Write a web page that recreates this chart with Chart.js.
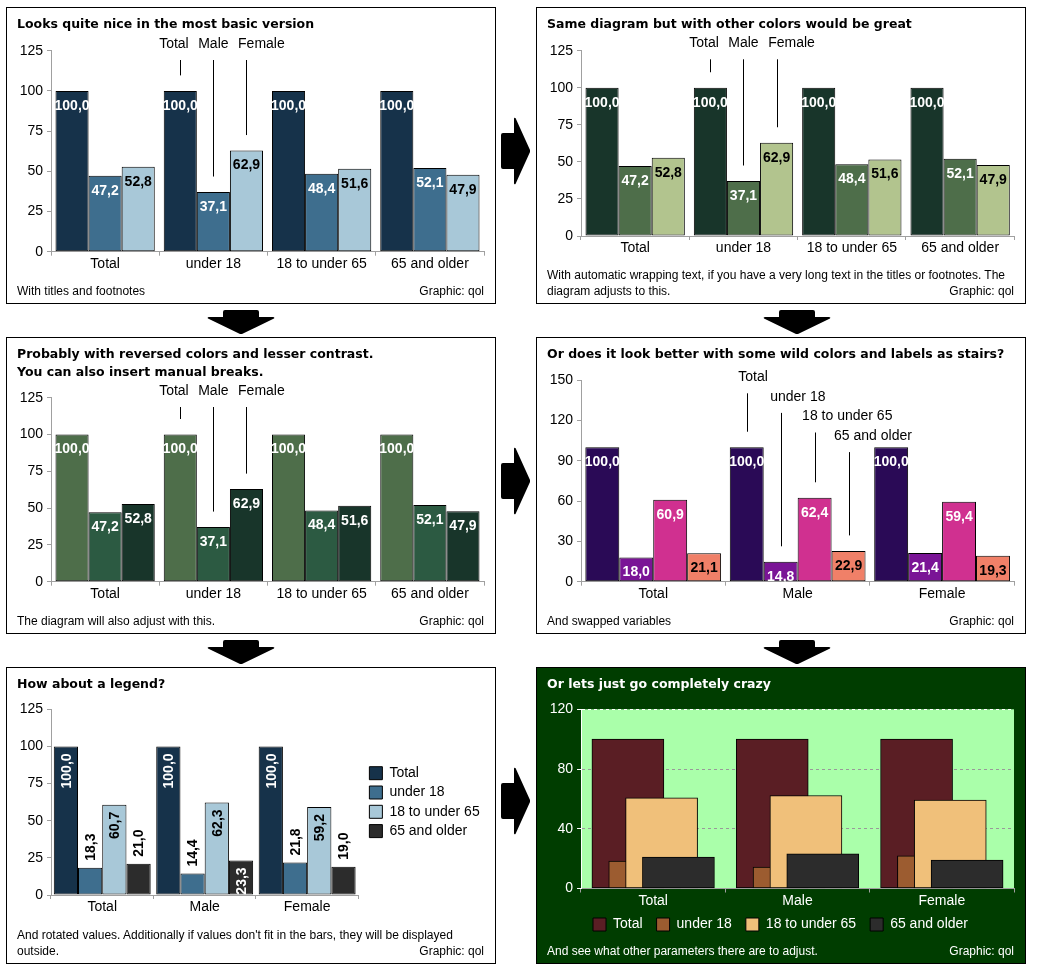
<!DOCTYPE html>
<html>
<head>
<meta charset="utf-8">
<script src="https://cdn.jsdelivr.net/npm/chart.js@4.4.1/dist/chart.umd.min.js"></script>
<style>
  body { margin: 0; background: #fff; width: 1037px; height: 979px; position: relative; overflow: hidden; }
  .panel { position: absolute; width: 488px; height: 295px; border: 1px solid #000; background: #fff; }
  .panel canvas { position: absolute; left: 0; top: 0; }
  .title { position: absolute; left: 10px; top: 7px; font: bold 12.5px/18.3px "DejaVu Sans", Verdana, sans-serif; color: #000; white-space: nowrap; }
  .foot { position: absolute; left: 10px; right: 11px; bottom: 4.5px; font: 12px/16px "Liberation Sans", Arial, sans-serif; color: #000; white-space: nowrap; }
  .src { position: absolute; right: 0; bottom: 0; }
  .dark { background: #003d00; }
  .dark .title, .dark .foot { color: #fff; }
  .arrow { position: absolute; }
</style>
</head>
<body>

<div class="panel" style="left:6px;top:7px">
  <canvas id="c1" width="488" height="295"></canvas>
  <div class="title">Looks quite nice in the most basic version</div>
  <div class="foot">With titles and footnotes<span class="src">Graphic: qol</span></div>
</div>

<div class="panel" style="left:536px;top:7px">
  <canvas id="c2" width="488" height="295"></canvas>
  <div class="title">Same diagram but with other colors would be great</div>
  <div class="foot">With automatic wrapping text, if you have a very long text in the titles or footnotes. The<br>diagram adjusts to this.<span class="src">Graphic: qol</span></div>
</div>

<div class="panel" style="left:6px;top:337px">
  <canvas id="c3" width="488" height="295"></canvas>
  <div class="title">Probably with reversed colors and lesser contrast.<br>You can also insert manual breaks.</div>
  <div class="foot">The diagram will also adjust with this.<span class="src">Graphic: qol</span></div>
</div>

<div class="panel" style="left:536px;top:337px">
  <canvas id="c4" width="488" height="295"></canvas>
  <div class="title">Or does it look better with some wild colors and labels as stairs?</div>
  <div class="foot">And swapped variables<span class="src">Graphic: qol</span></div>
</div>

<div class="panel" style="left:6px;top:667px">
  <canvas id="c5" width="488" height="295"></canvas>
  <div class="title">How about a legend?</div>
  <div class="foot">And rotated values. Additionally if values don't fit in the bars, they will be displayed<br>outside.<span class="src">Graphic: qol</span></div>
</div>

<div class="panel dark" style="left:536px;top:667px">
  <canvas id="c6" width="488" height="295"></canvas>
  <div class="title">Or lets just go completely crazy</div>
  <div class="foot">And see what other parameters there are to adjust.<span class="src">Graphic: qol</span></div>
</div>

<svg class="arrow" style="left:501px;top:117px" width="29" height="68" viewBox="0 0 29 68"><path d="M2 16 H13 V2 Q13 0 14.5 1 L29 33 V35 L14.5 67 Q13 68 13 66 V52 H2 Q0 52 0 50 V18 Q0 16 2 16 Z"/></svg>
<svg class="arrow" style="left:501px;top:447px" width="29" height="68" viewBox="0 0 29 68"><path d="M2 16 H13 V2 Q13 0 14.5 1 L29 33 V35 L14.5 67 Q13 68 13 66 V52 H2 Q0 52 0 50 V18 Q0 16 2 16 Z"/></svg>
<svg class="arrow" style="left:501px;top:767px" width="29" height="68" viewBox="0 0 29 68"><path d="M2 16 H13 V2 Q13 0 14.5 1 L29 33 V35 L14.5 67 Q13 68 13 66 V52 H2 Q0 52 0 50 V18 Q0 16 2 16 Z"/></svg>
<svg class="arrow" style="left:207px;top:310px" width="68" height="24" viewBox="0 0 68 24"><path d="M18 0 H50 Q52 0 52 2 V7 H66 Q68 7 67 8.5 L35 24 H33 L1 8.5 Q0 7 2 7 H16 V2 Q16 0 18 0 Z"/></svg>
<svg class="arrow" style="left:207px;top:640px" width="68" height="24" viewBox="0 0 68 24"><path d="M18 0 H50 Q52 0 52 2 V7 H66 Q68 7 67 8.5 L35 24 H33 L1 8.5 Q0 7 2 7 H16 V2 Q16 0 18 0 Z"/></svg>
<svg class="arrow" style="left:763px;top:310px" width="68" height="24" viewBox="0 0 68 24"><path d="M18 0 H50 Q52 0 52 2 V7 H66 Q68 7 67 8.5 L35 24 H33 L1 8.5 Q0 7 2 7 H16 V2 Q16 0 18 0 Z"/></svg>
<svg class="arrow" style="left:763px;top:640px" width="68" height="24" viewBox="0 0 68 24"><path d="M18 0 H50 Q52 0 52 2 V7 H66 Q68 7 67 8.5 L35 24 H33 L1 8.5 Q0 7 2 7 H16 V2 Q16 0 18 0 Z"/></svg>

<script>
// categories
const ageGroups = ["Total", "under 18", "18 to under 65", "65 and older"];
const sexes = ["Total", "Male", "Female"];

// panels 1-3: share by sex within each age group
const sexTotal = [100.0, 100.0, 100.0, 100.0];
const sexMale = [47.2, 37.1, 48.4, 52.1];
const sexFemale = [52.8, 62.9, 51.6, 47.9];

// panel 4: share of age groups within each sex
const wildTotal = [100.0, 100.0, 100.0];
const wildUnder18 = [18.0, 14.8, 21.4];
const wild18to65 = [60.9, 62.4, 59.4];
const wild65plus = [21.1, 22.9, 19.3];

// panels 5-6
const legTotal = [100.0, 100.0, 100.0];
const legUnder18 = [18.3, 14.4, 21.8];
const leg18to65 = [60.7, 62.3, 59.2];
const leg65plus = [21.0, 23.3, 19.0];

// tick labels
const ticks125 = [0, 25, 50, 75, 100, 125];
const ticks150 = [0, 30, 60, 90, 120, 150];
const ticks120 = [0, 40, 80, 120];

const W = 488, H = 295;
const AXIS = "#a0a0a0";
const FONT = '"Liberation Sans", Arial, sans-serif';

Chart.defaults.font.family = FONT;
Chart.defaults.font.size = 14;
Chart.defaults.color = "#000";
Chart.defaults.animation = false;

const fmt = v => v.toFixed(1).replace(".", ",");

// values written into (or above) the bars
const valueLabels = {
  id: "valueLabels",
  afterDatasetsDraw(chart, args, opts) {
    if (!opts.colors) return;
    const ctx = chart.ctx, a = chart.chartArea;
    ctx.save();
    ctx.font = "bold 14px " + FONT;
    ctx.textBaseline = "middle";
    if (!opts.rotated) {
      ctx.beginPath();
      ctx.rect(a.left, a.top, a.right - a.left, a.bottom - a.top);
      ctx.clip();
    }
    chart.data.datasets.forEach((ds, di) => {
      chart.getDatasetMeta(di).data.forEach((bar, i) => {
        const v = ds.data[i];
        const txt = fmt(typeof v === "object" ? v.y : v);
        if (opts.rotated) {
          const w = ctx.measureText(txt).width;
          const inside = w + opts.fit <= bar.base - bar.y;
          ctx.save();
          ctx.translate(bar.x, inside ? bar.y + opts.pad : bar.y - opts.pad);
          ctx.rotate(-Math.PI / 2);
          ctx.textAlign = inside ? "right" : "left";
          ctx.fillStyle = inside ? opts.colors[di] : "#000";
          ctx.fillText(txt, 0, 1);
          ctx.restore();
        } else {
          ctx.textAlign = "center";
          ctx.fillStyle = opts.colors[di];
          ctx.fillText(txt, bar.x, bar.y + opts.offset);
        }
      });
    });
    ctx.restore();
  }
};

// series names pointing at the bars of one category
const leaders = {
  id: "leaders",
  afterDatasetsDraw(chart, args, opts) {
    if (opts.index === undefined) return;
    const ctx = chart.ctx;
    ctx.save();
    ctx.font = "14px " + FONT;
    ctx.textBaseline = "middle";
    ctx.textAlign = "left";
    ctx.fillStyle = "#000";
    ctx.strokeStyle = "#000";
    ctx.lineWidth = 1;
    const items = chart.data.datasets.map((ds, di) => {
      const bar = chart.getDatasetMeta(di).data[opts.index];
      const w = ctx.measureText(ds.label).width;
      return { text: ds.label, x: bar.x, top: bar.y, w, left: bar.x - w / 2, y: opts.y };
    });
    if (opts.stairs) {
      items.forEach((it, i) => {
        it.left = it.x - opts.indent - i * 2;
        it.y = opts.y + i * opts.step;
      });
    } else {
      const m = Math.floor(items.length / 2);
      for (let i = m - 1; i >= 0; i--)
        items[i].left = Math.min(items[i].left, items[i + 1].left - opts.gap - items[i].w);
      for (let i = m + 1; i < items.length; i++)
        items[i].left = Math.max(items[i].left, items[i - 1].left + items[i - 1].w + opts.gap);
    }
    items.forEach(it => {
      ctx.fillText(it.text, it.left, it.y);
      const x = Math.round(it.x) + 0.5;
      ctx.beginPath();
      ctx.moveTo(x, it.y + 16);
      ctx.lineTo(x, it.top - 15.5);
      ctx.stroke();
    });
    ctx.restore();
  }
};

const plotBg = {
  id: "plotBg",
  beforeDraw(chart, args, opts) {
    if (!opts.color) return;
    const a = chart.chartArea;
    chart.ctx.save();
    chart.ctx.fillStyle = opts.color;
    chart.ctx.fillRect(a.left, a.top, a.right - a.left, a.bottom - a.top);
    chart.ctx.restore();
  }
};

// nudges the legend box after layout
const legendShift = {
  id: "legendShift",
  afterLayout(chart, args, opts) {
    if (!chart.legend) return;
    const dx = opts.x || 0, dy = opts.y || 0;
    chart.legend.left += dx;
    chart.legend.right += dx;
    chart.legend.top += dy;
    chart.legend.bottom += dy;
  }
};

Chart.register(valueLabels, leaders, plotBg, legendShift);

function yScale(ticks, c) {
  return {
    min: ticks[0],
    max: ticks[ticks.length - 1],
    afterBuildTicks: s => { s.ticks = ticks.map(v => ({ value: v })); },
    grid: { drawOnChartArea: false, tickLength: 4, color: AXIS },
    border: { color: AXIS },
    ticks: { padding: 4, color: c || "#000", font: { size: 14 } },
    afterFit: s => { s.width = 44; }
  };
}

function xScale(xh, c) {
  return {
    type: "category",
    offset: true,
    grid: { offset: true, drawOnChartArea: false, tickLength: 4, color: AXIS },
    border: { color: AXIS },
    ticks: { padding: 0, color: c || "#000", font: { size: 14 }, maxRotation: 0, autoSkip: false },
    afterFit: s => { s.height = xh; }
  };
}

function barChart(id, cfg) {
  return new Chart(document.getElementById(id), {
    type: "bar",
    data: {
      labels: cfg.labels,
      datasets: cfg.series.map((s, i) => ({
        label: s[0],
        data: s[1],
        backgroundColor: cfg.colors[i],
        borderColor: "#000",
        borderWidth: 1,
        borderSkipped: false,
        categoryPercentage: cfg.catPct,
        barPercentage: 1
      }))
    },
    options: {
      responsive: false,
      animation: false,
      events: [],
      layout: { padding: { left: 0, top: cfg.top, right: cfg.padRight !== undefined ? cfg.padRight : W - cfg.right, bottom: H - cfg.bottom - cfg.xh } },
      scales: { x: xScale(cfg.xh), y: yScale(cfg.ticks) },
      plugins: Object.assign({ legend: { display: false }, tooltip: { enabled: false } }, cfg.plugins)
    }
  });
}

const bluePal = ["#16324a", "#3e6e8e", "#a8c8d8", "#2c2c2c"];
const greenPal = ["#18352a", "#4e6e4a", "#b2c48e"];
const greenRev = ["#4e6e4a", "#2c5a42", "#18352a"];
const wildPal = ["#2a0a56", "#7a1496", "#d03090", "#f08068"];
const crazyPal = ["#5a1e24", "#9c5c30", "#f0c07a", "#2c2c2c"];

const sexSeries = [["Total", sexTotal], ["Male", sexMale], ["Female", sexFemale]];

barChart("c1", {
  labels: ageGroups, series: sexSeries, colors: bluePal, ticks: ticks125,
  top: 42.7, bottom: 243.7, right: 477, xh: 21, catPct: 0.917,
  plugins: {
    valueLabels: { offset: 15, colors: ["#fff", "#fff", "#000"] },
    leaders: { index: 1, y: 36, gap: 9.5 }
  }
});

barChart("c2", {
  labels: ageGroups, series: sexSeries, colors: greenPal, ticks: ticks125,
  top: 42.7, bottom: 228, right: 477.3, xh: 21, catPct: 0.917,
  plugins: {
    valueLabels: { offset: 15, colors: ["#fff", "#fff", "#000"] },
    leaders: { index: 1, y: 35.3, gap: 9.5 }
  }
});

barChart("c3", {
  labels: ageGroups, series: sexSeries, colors: greenRev, ticks: ticks125,
  top: 59.7, bottom: 243.7, right: 477, xh: 21, catPct: 0.917,
  plugins: {
    valueLabels: { offset: 15, colors: ["#fff", "#fff", "#fff"] },
    leaders: { index: 1, y: 53, gap: 9.5 }
  }
});

barChart("c4", {
  labels: sexes,
  series: [["Total", wildTotal], ["under 18", wildUnder18], ["18 to under 65", wild18to65], ["65 and older", wild65plus]],
  colors: wildPal, ticks: ticks150,
  top: 42, bottom: 243.7, right: 477.3, xh: 21, catPct: 0.94,
  plugins: {
    valueLabels: { offset: 15, colors: ["#fff", "#fff", "#fff", "#000"] },
    leaders: { index: 1, y: 39.3, step: 19.6, indent: 8.5, stairs: true }
  }
});

const legSeries = [["Total", legTotal], ["under 18", legUnder18], ["18 to under 65", leg18to65], ["65 and older", leg65plus]];

barChart("c5", {
  labels: sexes, series: legSeries, colors: bluePal, ticks: ticks125,
  top: 41.3, bottom: 227, padRight: 19.5, xh: 21, catPct: 0.946,
  plugins: {
    legend: {
      display: true, position: "right", fullSize: false,
      labels: { boxWidth: 13, boxHeight: 13, padding: 5.3, color: "#000", font: { size: 14 } }
    },
    legendShift: { x: 5.7 },
    valueLabels: { rotated: true, pad: 7, fit: 6, colors: ["#fff", "#fff", "#000", "#fff"] }
  }
});

// overlapping bars: each series sits on a hidden linear axis, shifted inside its category
new Chart(document.getElementById("c6"), {
  type: "bar",
  data: {
    labels: sexes,
    datasets: legSeries.map((s, di) => ({
      label: s[0],
      data: s[1].map((v, i) => ({ x: i + (di - 1.5) * 0.1167, y: v })),
      xAxisID: "xb",
      grouped: false,
      barThickness: 72,
      order: legSeries.length - di,
      backgroundColor: crazyPal[di],
      borderColor: "#000",
      borderWidth: 1,
      borderSkipped: false
    }))
  },
  options: {
    responsive: false,
    animation: false,
    events: [],
    layout: { padding: { left: 0, top: 41.3, right: W - 477, bottom: 15.5 } },
    scales: {
      x: xScale(21, "#fff"),
      xb: { type: "linear", axis: "x", position: "bottom", display: false, min: -0.5, max: 2.5, offset: false, grid: { offset: false } },
      y: Object.assign(yScale(ticks120, "#fff"), {
        grid: {
          drawOnChartArea: true, tickLength: 4, tickColor: "#fff",
          color: c => c.tick.value === 120 ? "#fff" : (c.tick.value === 0 ? "rgba(0,0,0,0)" : "#999")
        },
        border: { color: "#fff", dash: [3, 3] }
      })
    },
    plugins: {
      tooltip: { enabled: false },
      legend: {
        display: true, position: "bottom",
        labels: {
          boxWidth: 13, boxHeight: 13, padding: 14, color: "#fff", font: { size: 14 },
          sort: (a, b) => a.datasetIndex - b.datasetIndex
        }
      },
      legendShift: { x: 5, y: -6 },
      plotBg: { color: "#aaffaa" }
    }
  }
});
</script>
</body>
</html>
